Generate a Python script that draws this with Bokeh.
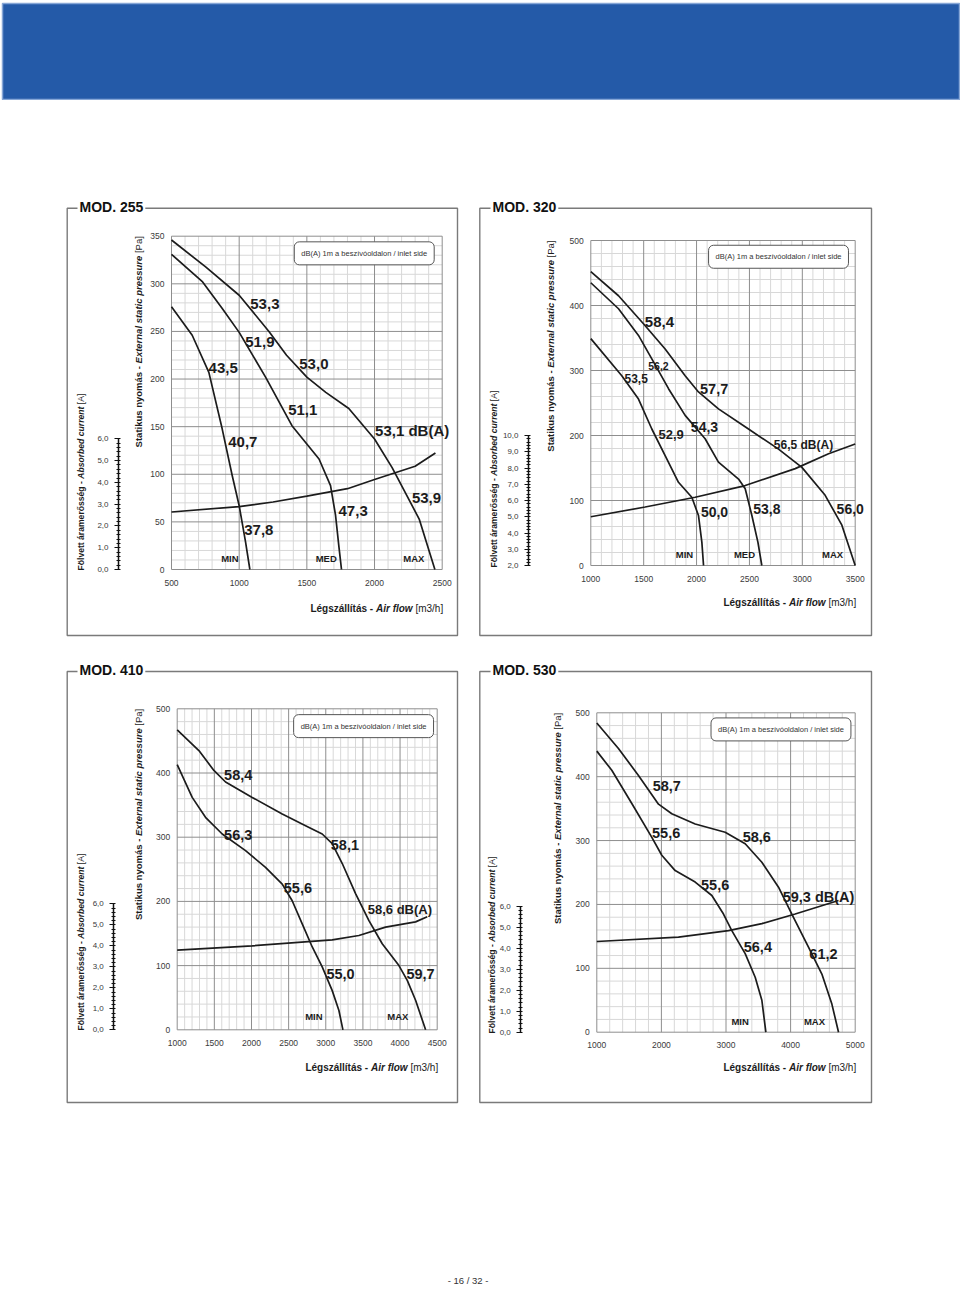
import math
from bokeh.plotting import figure
from bokeh.layouts import column, row
from bokeh.models import (Range1d, LinearAxis, SingleIntervalTicker, Label, LabelSet,
                          BoxAnnotation, ColumnDataSource, CustomJSTickFormatter)
from bokeh.core.properties import value, field
from bokeh.embed import file_html
from bokeh.resources import INLINE

# ---------------- DATA ----------------
# MOD. 255  (air flow m3/h, static pressure Pa, current A)
m255_max_flow = [500, 750, 1000, 1220, 1350, 1500, 1640, 1810, 2000, 2130, 2330, 2446]
m255_max_pa = [346, 318, 288, 250, 225, 202, 186, 169, 137, 107, 53, 0]
m255_med_flow = [500, 730, 875, 1000, 1195, 1390, 1590, 1675, 1712, 1736, 1756]
m255_med_pa = [331, 302, 274, 249, 202, 151, 116, 88, 57, 25, 0]
m255_min_flow = [500, 653, 776, 874, 948, 1000, 1047, 1079]
m255_min_pa = [276, 246, 207, 148, 99, 67, 29, 0]
m255_cur_flow = [500, 1000, 1250, 1500, 1800, 2000, 2300, 2450]
m255_cur_amp = [2.64, 2.89, 3.10, 3.37, 3.71, 4.13, 4.74, 5.35]
m255_db_text = ["53,3", "51,9", "53,0", "43,5", "51,1", "53,1 dB(A)", "40,7", "53,9", "47,3", "37,8"]
m255_db_flow = [1190, 1153, 1552, 882, 1470, 2278, 1027, 2384, 1842, 1145]
m255_db_pa = [279, 239, 216, 212, 167, 146, 134, 75, 61, 42]
m255_speed_text = ["MIN", "MED", "MAX"]
m255_speed_flow = [931, 1643, 2291]
m255_speed_pa = [12, 12, 12]

# MOD. 320
m320_max_flow = [1000, 1262, 1498, 1703, 1892, 2018, 2207, 2491, 2775, 2996, 3216, 3374, 3500]
m320_max_pa = [452, 415, 372, 333, 292, 267, 241, 210, 179, 151, 108, 62, 0]
m320_med_flow = [1000, 1262, 1451, 1577, 1735, 1892, 2081, 2207, 2397, 2460, 2523, 2580, 2617]
m320_med_pa = [435, 395, 354, 318, 272, 231, 195, 159, 133, 118, 77, 36, 0]
m320_min_flow = [1000, 1293, 1451, 1577, 1703, 1829, 1955, 2018, 2050, 2066]
m320_min_pa = [349, 292, 256, 210, 169, 128, 105, 77, 36, 0]
m320_cur_flow = [1000, 1514, 1987, 2460, 2933, 3248, 3500]
m320_cur_amp = [5.0, 5.6, 6.2, 6.92, 7.96, 8.88, 9.48]
m320_db_text = ["58,4", "56,2", "53,5", "57,7", "54,3", "52,9", "56,5 dB(A)", "50,0", "53,8", "56,0"]
m320_db_flow = [1649, 1640, 1429, 2166, 2075, 1760, 3011, 2170, 2665, 3453]
m320_db_pa = [375, 307, 288, 271, 213, 202, 185, 83, 87, 87]
m320_speed_text = ["MIN", "MED", "MAX"]
m320_speed_flow = [1886, 2453, 3286]
m320_speed_pa = [17, 17, 17]

# MOD. 410
m410_max_flow = [1000, 1292, 1494, 1651, 2010, 2414, 2728, 2952, 3087, 3222, 3401, 3581, 3760, 3985, 4097, 4209, 4344]
m410_max_pa = [467, 435, 404, 386, 362, 336, 318, 305, 290, 259, 212, 170, 134, 100, 77, 46, 0]
m410_min_flow = [1000, 1202, 1381, 1606, 1920, 2189, 2414, 2548, 2683, 2818, 2952, 3087, 3177, 3231]
m410_min_pa = [413, 362, 331, 305, 279, 253, 227, 201, 165, 129, 98, 61, 30, 0]
m410_cur_flow = [1000, 2010, 3087, 3446, 3805, 4209, 4366]
m410_cur_amp = [3.79, 4.00, 4.28, 4.49, 4.89, 5.14, 5.38]
m410_db_text = ["58,4", "56,3", "58,1", "55,6", "58,6 dB(A)", "55,0", "59,7"]
m410_db_flow = [1821, 1821, 3257, 2625, 3998, 3199, 4276]
m410_db_pa = [397, 303, 288, 221, 188, 87, 87]
m410_speed_text = ["MIN", "MAX"]
m410_speed_flow = [2840, 3971]
m410_speed_pa = [21, 21]

# MOD. 530
m530_max_flow = [1000, 1335, 1645, 1955, 2161, 2523, 2987, 3297, 3555, 3813, 4019, 4277, 4484, 4639, 4742]
m530_max_pa = [484, 444, 402, 357, 342, 326, 313, 295, 266, 227, 185, 133, 91, 44, 0]
m530_min_flow = [1000, 1232, 1542, 1852, 2006, 2213, 2523, 2781, 2961, 3090, 3297, 3452, 3555, 3617]
m530_min_pa = [440, 410, 358, 305, 277, 253, 235, 214, 185, 159, 123, 86, 50, 0]
m530_cur_flow = [1000, 2264, 3039, 3555, 4071, 4742]
m530_cur_amp = [4.32, 4.53, 4.84, 5.17, 5.63, 6.27]
m530_db_text = ["58,7", "55,6", "58,6", "55,6", "59,3 dB(A)", "56,4", "61,2"]
m530_db_flow = [2084, 2073, 3477, 2832, 4432, 3493, 4509]
m530_db_pa = [385, 312, 305, 231, 212, 134, 123]
m530_speed_text = ["MIN", "MAX"]
m530_speed_flow = [3219, 4370]
m530_speed_pa = [17, 17]

LEGEND_TEXT = "dB(A) 1m a beszívóoldalon / inlet side"
PAGE_TEXT = "- 16 / 32 -"

# ---------------- STYLE / LAYOUT ----------------
FONT = "Liberation Sans"
INK = "#1c1c1c"
TICK_INK = "#3a3a3a"
MAJOR_GRID = "#8e8e8e"
MINOR_GRID = "#d8d8d8"
FRAME_GRAY = "#7a7a7a"
BLUE = "#245aa8"

REG = {' ': 278, '[': 278, ']': 278, '(': 333, ')': 333, '/': 278, '-': 333, '.': 278, ',': 278,
       'A': 667, 'B': 667, 'P': 667, 'E': 667, 'F': 611, 'L': 556, 'S': 667, 'M': 833,
       'a': 556, 'b': 556, 'c': 500, 'd': 556, 'e': 556, 'f': 278, 'g': 556, 'h': 556, 'i': 222,
       'k': 500, 'l': 222, 'm': 833, 'n': 556, 'o': 556, 'p': 556, 'r': 333, 's': 500, 't': 278,
       'u': 556, 'v': 500, 'w': 722, 'x': 500, 'y': 500, 'z': 500, 'á': 556, 'é': 556, 'í': 278,
       'ó': 556, 'ö': 556, 'ő': 556}
BOLD = {' ': 278, '[': 333, ']': 333, '(': 333, ')': 333, '/': 278, '-': 333, '.': 278, ',': 278,
        'A': 722, 'B': 722, 'P': 667, 'E': 667, 'F': 611, 'L': 611, 'S': 667, 'M': 833,
        'a': 556, 'b': 611, 'c': 556, 'd': 611, 'e': 556, 'f': 333, 'g': 611, 'h': 611, 'i': 278,
        'k': 556, 'l': 278, 'm': 889, 'n': 611, 'o': 611, 'p': 611, 'r': 389, 's': 556, 't': 333,
        'u': 611, 'v': 556, 'w': 778, 'x': 556, 'y': 556, 'z': 500, 'á': 556, 'é': 556, 'í': 278,
        'ó': 611, 'ö': 611, 'ő': 611}


def text_w(s, style, size):
    tbl = REG if style == "normal" else BOLD
    return sum(tbl.get(c, 556) for c in s) / 1000.0 * size


X_LABEL = [("Légszállítás - ", "bold"), ("Air flow", "bold italic"), (" [m3/h]", "normal")]
Y_LABEL = [("Statikus nyomás - ", "bold"), ("External static pressure", "bold italic"), (" [Pa]", "normal")]
C_LABEL = [("Fölvett áramerősség - ", "bold"), ("Absorbed current", "bold italic"), (" [A]", "normal")]

# page-pixel layout of each panel (image coordinates)
SPECS = [
    dict(title="MOD. 255", xr=(500, 2500), yr=(0, 350), xstep=500, ystep=50, cur=(0, 6),
         curves=[(m255_max_flow, m255_max_pa), (m255_med_flow, m255_med_pa), (m255_min_flow, m255_min_pa)],
         cur_flow=m255_cur_flow, cur_amp=m255_cur_amp,
         db=(m255_db_text, m255_db_flow, m255_db_pa), db_size=[15] * 10,
         speed=(m255_speed_text, m255_speed_flow, m255_speed_pa), legend=(1924, 332),
         L=dict(ox=0, oy=100, w=472, h=550, fx=(171, 441.7), fy=(569, 235.7),
                box=(66.7, 207.7, 457, 635), tx=77, cur_x=118, cur_top=438.3,
                xl_y=608.3, yl_x=137.5, cl_x=80, cl_y=570)),
    dict(title="MOD. 320", xr=(1000, 3500), yr=(0, 500), xstep=500, ystep=100, cur=(2, 10),
         curves=[(m320_max_flow, m320_max_pa), (m320_med_flow, m320_med_pa), (m320_min_flow, m320_min_pa)],
         cur_flow=m320_cur_flow, cur_amp=m320_cur_amp,
         db=(m320_db_text, m320_db_flow, m320_db_pa),
         db_size=[15, 10.5, 12, 14.5, 14, 13, 12, 14, 14, 14],
         speed=(m320_speed_text, m320_speed_flow, m320_speed_pa), legend=(2775, 475),
         L=dict(ox=472, oy=100, w=488, h=550, fx=(590.3, 854.7), fy=(565, 240),
                box=(479.3, 207.7, 871, 635), tx=490, cur_x=528, cur_top=435,
                xl_y=602.3, yl_x=549.7, cl_x=493, cl_y=567)),
    dict(title="MOD. 410", xr=(1000, 4500), yr=(0, 500), xstep=500, ystep=100, cur=(0, 6),
         curves=[(m410_max_flow, m410_max_pa), (m410_min_flow, m410_min_pa)],
         cur_flow=m410_cur_flow, cur_amp=m410_cur_amp,
         db=(m410_db_text, m410_db_flow, m410_db_pa), db_size=[14.5, 14.5, 14.5, 14.5, 13, 14.5, 14.5],
         speed=(m410_speed_text, m410_speed_flow, m410_speed_pa), legend=(3509, 473),
         L=dict(ox=0, oy=650, w=472, h=460, fx=(176.7, 436.7), fy=(1029.3, 708.3),
                box=(66.7, 671, 457, 1102), tx=77, cur_x=113.3, cur_top=903.3,
                xl_y=1067.3, yl_x=137.7, cl_x=80, cl_y=1030)),
    dict(title="MOD. 530", xr=(1000, 5000), yr=(0, 500), xstep=1000, ystep=100, cur=(0, 6),
         curves=[(m530_max_flow, m530_max_pa), (m530_min_flow, m530_min_pa)],
         cur_flow=m530_cur_flow, cur_amp=m530_cur_amp,
         db=(m530_db_text, m530_db_flow, m530_db_pa), db_size=[14.5] * 7,
         speed=(m530_speed_text, m530_speed_flow, m530_speed_pa), legend=(3851, 474),
         L=dict(ox=472, oy=650, w=488, h=460, fx=(596.3, 854.7), fy=(1031.7, 712.3),
                box=(479.3, 671, 871, 1102), tx=490, cur_x=520.3, cur_top=905.7,
                xl_y=1066.7, yl_x=557.3, cl_x=491.3, cl_y=1033)),
]


def lin_map(p0, p1, d0, d1):
    k = (d1 - d0) / (p1 - p0)
    return lambda px: d0 + (px - p0) * k


def make_panel(spec):
    L = spec["L"]
    x0, x1 = spec["xr"]
    y0, y1 = spec["yr"]
    lo, hi = spec["cur"]
    X = lin_map(L["fx"][0], L["fx"][1], x0, x1)
    Y = lin_map(L["fy"][0], L["fy"][1], y0, y1)
    C = lin_map(L["fy"][0], L["cur_top"], lo, hi)
    p = figure(width=L["w"], height=L["h"],
               x_range=Range1d(X(L["ox"]), X(L["ox"] + L["w"])),
               y_range=Range1d(Y(L["oy"] + L["h"]), Y(L["oy"])),
               x_axis_type=None, y_axis_type=None,
               output_backend="svg", toolbar_location=None, min_border=0,
               background_fill_color="white", border_fill_color="white", outline_line_color=None)
    p.extra_y_ranges = {"cur": Range1d(C(L["oy"] + L["h"]), C(L["oy"]))}

    # grid (minor then major), limited to the chart area
    mstep_x = spec["xstep"] // 5
    mstep_y = spec["ystep"] // 5
    xq = list(range(x0, x1 + 1, mstep_x))
    yq = list(range(y0, y1 + 1, mstep_y))
    xs_minor = [q for q in xq if (q - x0) % spec["xstep"] != 0]
    xs_major = [q for q in xq if (q - x0) % spec["xstep"] == 0]
    ys_minor = [q for q in yq if (q - y0) % spec["ystep"] != 0]
    ys_major = [q for q in yq if (q - y0) % spec["ystep"] == 0]
    p.segment(x0=xs_minor, y0=[y0] * len(xs_minor), x1=xs_minor, y1=[y1] * len(xs_minor),
              line_color=MINOR_GRID, line_width=1)
    p.segment(x0=[x0] * len(ys_minor), y0=ys_minor, x1=[x1] * len(ys_minor), y1=ys_minor,
              line_color=MINOR_GRID, line_width=1)
    p.segment(x0=xs_major, y0=[y0] * len(xs_major), x1=xs_major, y1=[y1] * len(xs_major),
              line_color=MAJOR_GRID, line_width=1)
    p.segment(x0=[x0] * len(ys_major), y0=ys_major, x1=[x1] * len(ys_major), y1=ys_major,
              line_color=MAJOR_GRID, line_width=1)

    # main axes (fixed at the chart area edges)
    common = dict(axis_line_color=None, major_tick_line_color=None, minor_tick_line_color=None,
                  major_tick_out=0, minor_tick_out=0, major_label_text_font=FONT,
                  major_label_text_font_size="8.5px", major_label_text_color=TICK_INK)
    xax = LinearAxis(fixed_location=y0, bounds=(x0, x1),
                     ticker=SingleIntervalTicker(interval=spec["xstep"]),
                     major_label_standoff=10, **common)
    p.add_layout(xax, "below")
    yax = LinearAxis(fixed_location=x0, bounds=(y0, y1),
                     ticker=SingleIntervalTicker(interval=spec["ystep"]),
                     major_label_standoff=7, **common)
    p.add_layout(yax, "left")

    # secondary current axis
    cax = LinearAxis(y_range_name="cur", fixed_location=X(L["cur_x"]), bounds=(lo, hi),
                     ticker=SingleIntervalTicker(interval=1, num_minor_ticks=5),
                     formatter=CustomJSTickFormatter(code="return tick.toFixed(1).replace('.', ',');"),
                     axis_line_color="#111111", axis_line_width=1.5,
                     major_tick_line_color="#111111", major_tick_line_width=1.2,
                     major_tick_out=4, major_tick_in=0,
                     minor_tick_line_color="#111111", minor_tick_line_width=1,
                     minor_tick_out=2, minor_tick_in=2,
                     major_label_standoff=6, major_label_text_font=FONT,
                     major_label_text_font_size="8px", major_label_text_color=TICK_INK)
    p.add_layout(cax, "left")

    # curves
    for q, pa in spec["curves"]:
        p.line(q, pa, line_color=INK, line_width=1.7)
    p.line(spec["cur_flow"], spec["cur_amp"], y_range_name="cur", line_color=INK, line_width=1.7)

    # dB labels
    t, qx, py = spec["db"]
    src = ColumnDataSource(dict(x=qx, y=py, text=t, size=[f"{s}px" for s in spec["db_size"]]))
    p.add_layout(LabelSet(x="x", y="y", text="text", source=src, text_align="center",
                          text_baseline="middle", text_font=value(FONT), text_font_style="bold",
                          text_font_size=field("size"), text_color=INK))
    t, qx, py = spec["speed"]
    src2 = ColumnDataSource(dict(x=qx, y=py, text=t))
    p.add_layout(LabelSet(x="x", y="y", text="text", source=src2, text_align="center",
                          text_baseline="middle", text_font=value(FONT), text_font_style="bold",
                          text_font_size="9.5px", text_color=INK))
    # legend box
    lx, ly = spec["legend"]
    p.add_layout(Label(x=lx, y=ly, text=LEGEND_TEXT, text_align="center", text_baseline="middle",
                       text_font=FONT, text_font_size="7.5px", text_color="#333333",
                       border_line_color="#555555", border_line_width=1,
                       background_fill_color="white", padding=7, border_radius=5))

    # outer frame box + title
    bl, bt, br, bb = L["box"]
    p.add_layout(BoxAnnotation(left=X(bl), right=X(br), top=Y(bt), bottom=Y(bb),
                               fill_color=None, line_color=FRAME_GRAY, line_alpha=1.0,
                               line_width=1.4))
    p.add_layout(Label(x=X(L["tx"]), y=Y(bt - 1.5), text=spec["title"], text_font=FONT,
                       text_font_size="14px", text_font_style="bold", text_align="left",
                       text_baseline="middle", text_color="#111111",
                       background_fill_color="white", padding=2))

    # axis titles with mixed styles (segments placed side by side)
    def seg_label(px, py, text, style, size, vertical=False):
        lead = len(text) - len(text.lstrip(" "))
        shift = text_w(" " * lead, style, size)
        if vertical:
            py -= shift
        else:
            px += shift
        p.add_layout(Label(x=X(px), y=Y(py), text=text.strip(" "), text_font=FONT,
                           text_font_size=f"{size}px", text_font_style=style,
                           text_align="left", text_baseline="middle", text_color=INK,
                           angle=math.pi / 2 if vertical else 0.0))

    size = 10
    total = sum(text_w(tt, s, size) for tt, s in X_LABEL)
    xpos = L["fx"][1] + 1 - total
    for tt, s in X_LABEL:
        seg_label(xpos, L["xl_y"], tt, s, size)
        xpos += text_w(tt, s, size)

    size = 9.5
    total = sum(text_w(tt, s, size) for tt, s in Y_LABEL)
    ypos = L["fy"][1] + total
    for tt, s in Y_LABEL:
        seg_label(L["yl_x"], ypos, tt, s, size, vertical=True)
        ypos -= text_w(tt, s, size)

    size = 8.6
    ypos = L["cl_y"]
    for tt, s in C_LABEL:
        seg_label(L["cl_x"], ypos, tt, s, size, vertical=True)
        ypos -= text_w(tt, s, size)
    return p


panels = [make_panel(s) for s in SPECS]

header = figure(width=960, height=100, x_axis_type=None, y_axis_type=None, output_backend="svg",
                toolbar_location=None, min_border=0, min_border_left=2, min_border_top=3,
                background_fill_color=BLUE, border_fill_color="white",
                outline_line_color="#86a6d6", outline_line_width=1.5)

footer = figure(width=960, height=180, x_axis_type=None, y_axis_type=None, output_backend="svg",
                toolbar_location=None, min_border=0, background_fill_color="white",
                border_fill_color="white", outline_line_color=None)
footer.add_layout(Label(x=467.5, y=1280 - 1110, x_units="canvas", y_units="canvas", text=PAGE_TEXT,
                        text_font=FONT, text_font_size="9.5px", text_align="center",
                        text_baseline="middle", text_color="#333333"))

layout = column(header, row(panels[0], panels[1]), row(panels[2], panels[3]), footer)

open("out.html", "w").write(file_html(layout, INLINE))
